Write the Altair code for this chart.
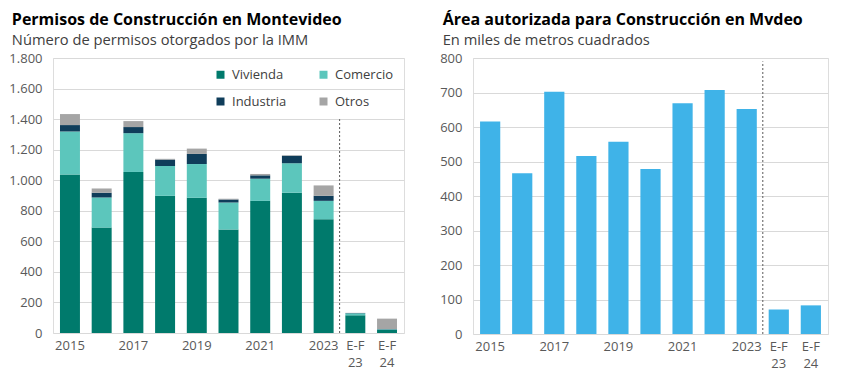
import altair as alt
import pandas as pd

categories = ["2015", "2016", "2017", "2018", "2019", "2020", "2021", "2022", "2023", "E-F 23", "E-F 24"]
series = ["Vivienda", "Comercio", "Industria", "Otros"]
series_colors = ["#007A6C", "#5CC6BC", "#0F3D5A", "#A5A5A5"]

vivienda = [1038, 690, 1054, 898, 885, 677, 865, 918, 745, 116, 20]
comercio = [281, 197, 254, 195, 221, 178, 145, 193, 120, 13, 4]
industria = [42, 31, 40, 42, 66, 19, 22, 50, 33, 2, 2]
otros = [72, 28, 39, 5, 35, 5, 9, 2, 68, 1, 68]

area = [616, 466, 702, 516, 557, 478, 669, 707, 652, 71, 83]

left_ticks = [0, 200, 400, 600, 800, 1000, 1200, 1400, 1600, 1800]
right_ticks = [0, 100, 200, 300, 400, 500, 600, 700, 800]

divider_cat = ["2023"]
divider_left = [1400]
divider_right = [790]

FONT = "Open Sans"
LABEL_COLOR = "#595959"

rows = []
for i, c in enumerate(categories):
    for k, (name, vals) in enumerate(zip(series, [vivienda, comercio, industria, otros])):
        rows.append({"cat": c, "serie": name, "value": vals[i], "order": k})
df_perm = pd.DataFrame(rows)
df_area = pd.DataFrame({"cat": categories, "value": area})

x_label_expr = ("indexof(['2016','2018','2020','2022'], datum.value) >= 0 ? '' : "
                "split(datum.value, ' ')")
y_label_expr = "replace(format(datum.value, ',d'), ',', '.')"


def x_enc(**kw):
    return alt.X(
        "cat:N", sort=categories, title=None,
        scale=alt.Scale(domain=categories, paddingInner=0.37, paddingOuter=0.22),
        axis=alt.Axis(labelAngle=0, labelExpr=x_label_expr, ticks=False, domain=False,
                      labelFontSize=13, labelColor=LABEL_COLOR, labelFont=FONT,
                      labelPadding=6, labelLineHeight=17, grid=False, labelOverlap=False),
        **kw)


def y_enc(field, ticks, **kw):
    return alt.Y(
        field, title=None,
        scale=alt.Scale(domain=[ticks[0], ticks[-1]], nice=False),
        axis=alt.Axis(values=ticks, labelExpr=y_label_expr, ticks=False, domain=False,
                      labelFontSize=13, labelColor=LABEL_COLOR, labelFont=FONT,
                      labelPadding=11, grid=True, gridColor="#D9D9D9", gridWidth=1,
                      labelOverlap=False, tickCount=len(ticks)),
        **kw)


def title(text, sub):
    return alt.TitleParams(text=text, subtitle=sub, anchor="start", frame="bounds",
                           font=FONT, fontSize=16, fontWeight="bold", color="#000000",
                           subtitleFont=FONT, subtitleFontSize=14.7, subtitleColor="#404040",
                           subtitlePadding=5, offset=4, dx=3)


left_bars = alt.Chart(df_perm).mark_bar().encode(
    x=x_enc(),
    y=y_enc("value:Q", left_ticks, stack="zero"),
    color=alt.Color("serie:N", sort=series,
                    scale=alt.Scale(domain=series, range=series_colors),
                    legend=alt.Legend(orient="none", legendX=161, legendY=10, columns=2,
                                      direction="horizontal", title=None,
                                      symbolType="square", symbolSize=64, symbolStrokeWidth=0,
                                      labelFont=FONT, labelFontSize=13, labelColor="#404040",
                                      columnPadding=30, rowPadding=13, labelOffset=5)),
    order=alt.Order("order:Q", sort="ascending"),
)

left_rule = alt.Chart(pd.DataFrame({"cat": divider_cat, "bottom": [0], "top": divider_left})).mark_rule(
    color="#595959", strokeDash=[2, 2], strokeWidth=1, xOffset=6
).encode(
    x=x_enc(bandPosition=1),
    y=y_enc("bottom:Q", left_ticks),
    y2=alt.Y2("top:Q"),
)

left = alt.layer(left_bars, left_rule).properties(
    width=351, height=275,
    title=title("Permisos de Construcción en Montevideo", "Número de permisos otorgados por la IMM"),
)

right_bars = alt.Chart(df_area).mark_bar(color="#3FB3E8").encode(
    x=x_enc(),
    y=y_enc("value:Q", right_ticks),
)

right_rule = alt.Chart(pd.DataFrame({"cat": divider_cat, "bottom": [0], "top": divider_right})).mark_rule(
    color="#595959", strokeDash=[2, 2], strokeWidth=1, xOffset=6
).encode(
    x=x_enc(bandPosition=1),
    y=y_enc("bottom:Q", right_ticks),
    y2=alt.Y2("top:Q"),
)

right = alt.layer(right_bars, right_rule).properties(
    width=355, height=276,
    title=title("Área autorizada para Construcción en Mvdeo", "En miles de metros cuadrados"),
)

chart = (
    alt.hconcat(left, right, spacing=34)
    .properties(padding={"left": 0, "top": 3, "right": 0, "bottom": 0})
    .configure_view(stroke=None)
    .configure(font=FONT)
)

chart.save("out.html", embed_options={"renderer": "svg", "actions": False})
